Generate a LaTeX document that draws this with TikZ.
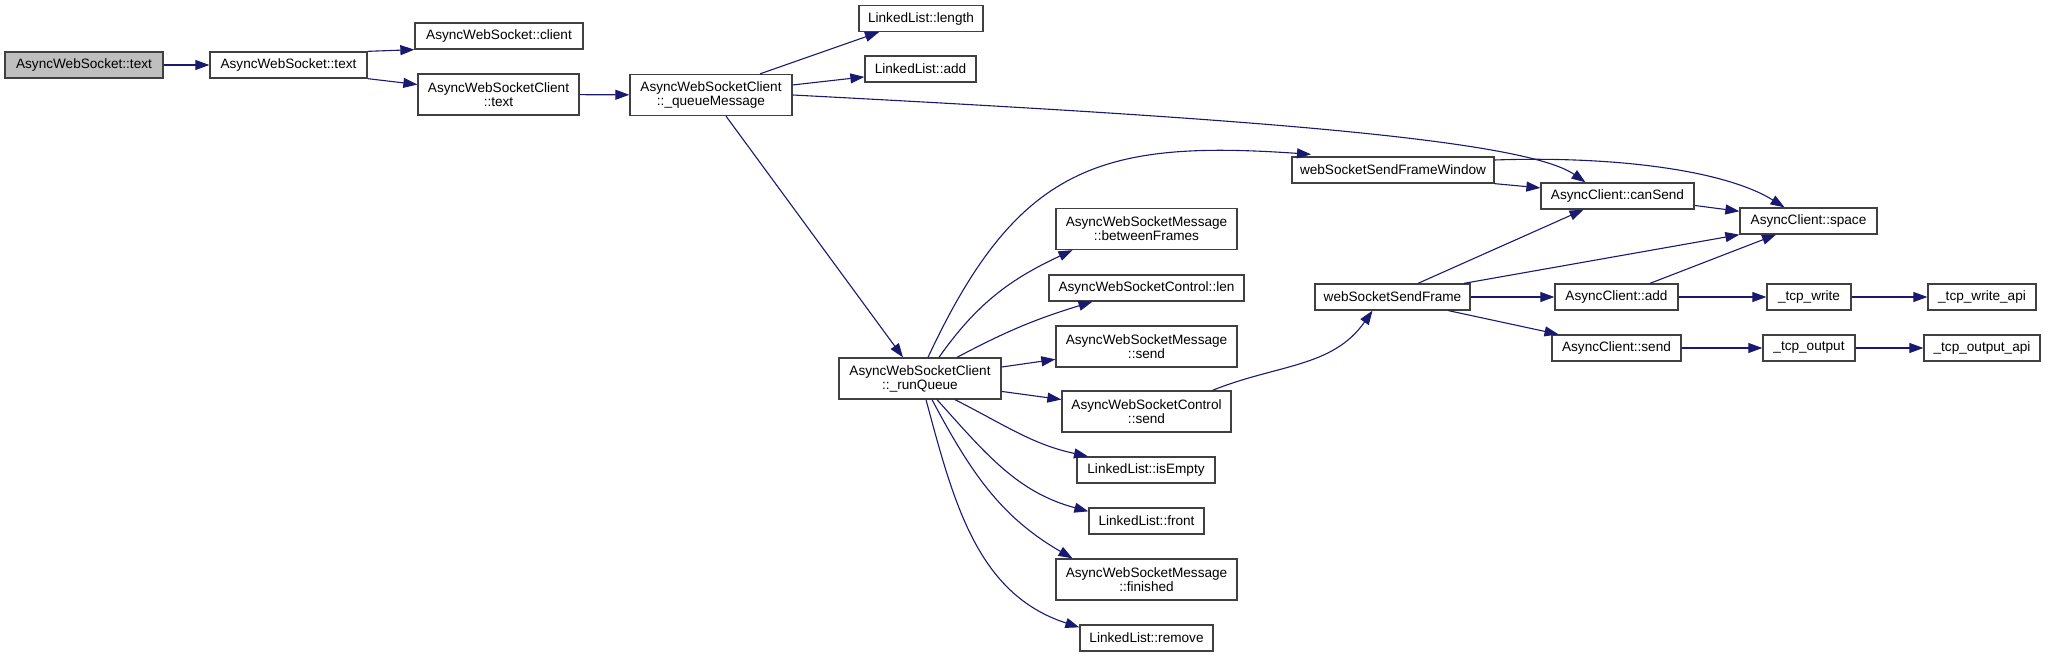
\documentclass[tikz,border=0pt]{standalone}
\usepackage{fontspec}
\setmainfont{Liberation Sans}
\usetikzlibrary{arrows.meta}
\definecolor{edgeblue}{RGB}{25,25,112}
\definecolor{rootgray}{RGB}{191,191,191}
\definecolor{boxline}{RGB}{64,64,64}

\begin{document}
\begin{tikzpicture}[
    x=0.5pt, y=-0.5pt,
    every node/.style={font=\fontsize{6.8pt}{7pt}\selectfont},
    fnbox/.style={
        draw=boxline,
        line width=0.65pt,
        fill=white,
        align=center,
        inner sep=0pt,
        minimum height=13pt
    },
    twoline/.style={fnbox, minimum height=20.5pt},
    rootbox/.style={fnbox, fill=rootgray},
    arr/.style={-{Triangle[length=7pt,width=5pt]}, line width=0.55pt, edgeblue}
]
    \useasboundingbox (0,0) rectangle (2045,657);

    % Caller chain
    \node[rootbox, minimum width=79pt] (wstext) at (84,65) {AsyncWebSocket::text};
    \node[fnbox, minimum width=78.5pt] (wscall) at (288.5,65) {AsyncWebSocket::text};
    \node[fnbox, minimum width=84pt] (wsclient) at (499,36) {AsyncWebSocket::client};
    \node[twoline, minimum width=80.5pt] (clitext) at (498.5,94.5) {AsyncWebSocketClient\\::text};
    \node[twoline, minimum width=81pt] (queuemsg) at (711,95) {AsyncWebSocketClient\\::\_queueMessage};

    % Linked list and queue
    \node[fnbox, minimum width=62pt] (lllength) at (921,18.5) {LinkedList::length};
    \node[fnbox, minimum width=55.5pt] (lladd) at (920.5,69) {LinkedList::add};
    \node[twoline, minimum width=81pt] (runqueue) at (920,378.5) {AsyncWebSocketClient\\::\_runQueue};

    \node[twoline, minimum width=90.5pt] (betweenframes) at (1146.5,229) {AsyncWebSocketMessage\\::betweenFrames};
    \node[fnbox, minimum width=97.5pt] (ctrllen) at (1146.5,288) {AsyncWebSocketControl::len};
    \node[twoline, minimum width=90.5pt] (msgsend) at (1146.5,346.5) {AsyncWebSocketMessage\\::send};
    \node[twoline, minimum width=84.5pt] (ctrlsend) at (1146.5,411.5) {AsyncWebSocketControl\\::send};
    \node[fnbox, minimum width=69pt] (isempty) at (1146,470) {LinkedList::isEmpty};
    \node[fnbox, minimum width=57.5pt] (front) at (1146.5,521) {LinkedList::front};
    \node[twoline, minimum width=90.5pt] (finished) at (1146.5,579.5) {AsyncWebSocketMessage\\::finished};
    \node[fnbox, minimum width=66.5pt] (remove) at (1146.5,638) {LinkedList::remove};

    % Frames and client
    \node[fnbox, minimum width=101pt] (framewin) at (1393,170) {webSocketSendFrameWindow};
    \node[fnbox, minimum width=77.5pt] (frame) at (1392.5,297) {webSocketSendFrame};
    \node[fnbox, minimum width=76.5pt] (cansend) at (1617.5,196) {AsyncClient::canSend};
    \node[fnbox, minimum width=61.5pt] (acadd) at (1616.5,297) {AsyncClient::add};
    \node[fnbox, minimum width=64.5pt] (acsend) at (1616.5,348) {AsyncClient::send};
    \node[fnbox, minimum width=68.5pt] (space) at (1808.5,221) {AsyncClient::space};
    \node[fnbox, minimum width=42pt] (tcpwrite) at (1809,297) {\_tcp\_write};
    \node[fnbox, minimum width=46pt] (tcpoutput) at (1809,348) {\_tcp\_output};
    \node[fnbox, minimum width=54pt] (tcpwriteapi) at (1982,297) {\_tcp\_write\_api};
    \node[fnbox, minimum width=58pt] (tcpoutputapi) at (1982,348) {\_tcp\_output\_api};

    % Calls
    \draw[arr] (wstext) -- (wscall);
    \draw[arr] (wscall.north east) -- (wsclient.south west);
    \draw[arr] (wscall.south east) -- (clitext.173);
    \draw[arr] (clitext) -- (queuemsg);

    \draw[arr] ([xshift=24.5pt]queuemsg.north) -- ([xshift=-21pt]lllength.south);
    \draw[arr] (queuemsg.7) -- (lladd.188);
    \draw[arr] (queuemsg.east) to[out=-3,in=145,out distance=200pt,in distance=40pt] ([xshift=-16pt]cansend.north);
    \draw[arr] ([xshift=7.5pt]queuemsg.south) -- ([xshift=-8.5pt]runqueue.north);

    \draw[arr] ([xshift=4pt]runqueue.north) to[out=65,in=176,looseness=1.25] ([xshift=-41pt,yshift=1pt]framewin.north);
    \draw[arr] ([xshift=9.5pt]runqueue.north) to[out=55,in=205] ([xshift=-37pt]betweenframes.south);
    \draw[arr] ([xshift=18.5pt]runqueue.north) to[out=28,in=197] ([xshift=-27pt]ctrllen.south);
    \draw[arr] (runqueue.8) -- (msgsend.188);
    \draw[arr] (runqueue.-9) -- (ctrlsend.172);
    \draw[arr] ([xshift=17.5pt]runqueue.south) to[out=-27,in=168] ([xshift=-29pt]isempty.north);
    \draw[arr] ([xshift=8.5pt]runqueue.south) to[out=-48,in=165] ([yshift=-2pt]front.north west);
    \draw[arr] ([xshift=6pt]runqueue.south) to[out=-62,in=150] ([xshift=-37pt]finished.north);
    \draw[arr] ([xshift=3pt]runqueue.south) to[out=-75,in=162] ([yshift=-1.5pt]remove.north west);

    \draw[arr] ([xshift=33pt]ctrlsend.north) to[out=22,in=-125] ([xshift=-10pt]frame.south);

    \draw[arr] (framewin.south east) -- (cansend.174);
    \draw[arr] ([yshift=5pt]framewin.east) to[out=2,in=148,out distance=60pt,in distance=35pt] ([xshift=-12pt]space.north);
    \draw[arr] (cansend.-7) -- (space.172);

    \draw[arr] ([xshift=12.75pt]frame.north) -- ([xshift=-17pt]cansend.south);
    \draw[arr] ([xshift=35.75pt]frame.north) -- (space.south west);
    \draw[arr] (frame) -- (acadd);
    \draw[arr] ([xshift=28pt]frame.south) -- ([xshift=-29pt]acsend.north);

    \draw[arr] ([xshift=16.75pt]acadd.north) -- ([xshift=-16.25pt]space.south);
    \draw[arr] (acadd) -- (tcpwrite);
    \draw[arr] (tcpwrite) -- (tcpwriteapi);
    \draw[arr] (acsend) -- (tcpoutput);
    \draw[arr] (tcpoutput) -- (tcpoutputapi);

\end{tikzpicture}
\end{document}
